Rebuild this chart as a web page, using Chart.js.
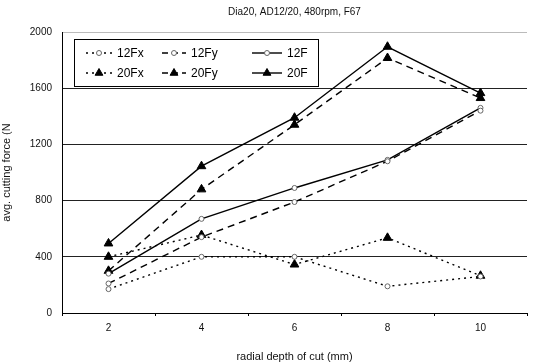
<!DOCTYPE html>
<html>
<head>
<meta charset="utf-8">
<script src="https://cdn.jsdelivr.net/npm/chart.js@4"></script>
<style>
  html, body { margin: 0; padding: 0; background: #fff; }
  #wrap { width: 533px; height: 364px; }
</style>
</head>
<body>
<div id="wrap"><canvas id="myChart" width="533" height="364"></canvas></div>
<script>
const depths = ['2', '4', '6', '8', '10'];
const yTicks = [0, 400, 800, 1200, 1600, 2000];

const f12x = [170, 400, 400, 190, 260];
const f12y = [210, 540, 790, 1080, 1440];
const f12 = [280, 670, 890, 1090, 1460];
const f20x = [400, 555, 345, 535, 265];
const f20y = [300, 880, 1340, 1815, 1530];
const f20 = [495, 1045, 1390, 1895, 1565];

const ctx = document.getElementById('myChart');
Chart.defaults.font.family = "'Liberation Sans', Arial, sans-serif";
Chart.defaults.font.size = 10;
Chart.defaults.color = '#111';

function series(label, data, dash, open) {
  return {
    label: label,
    data: data,
    borderColor: '#000',
    borderWidth: 1.4,
    borderDash: dash,
    backgroundColor: open ? '#fff' : '#000',
    pointStyle: open ? 'circle' : 'triangle',
    pointRadius: open ? 2.5 : 5,
    pointBorderWidth: 1,
    pointBorderColor: open ? '#666' : '#000',
    pointBackgroundColor: open ? '#fff' : '#000',
    tension: 0,
    fill: false
  };
}

// legend and title drawn inside the plot like the original
const boxLegend = {
  id: 'boxLegend',
  afterDraw(chart) {
    const c = chart.ctx;
    const area = chart.chartArea;
    c.save();
    // title centred over plot area
    c.fillStyle = '#111';
    c.font = "10px 'Liberation Sans', Arial, sans-serif";
    c.textAlign = 'center';
    c.textBaseline = 'middle';
    c.fillText('Dia20, AD12/20, 480rpm, F67', (area.left + area.right) / 2, 12);

    const bx = 74, by = 39, bw = 244, bh = 47;
    c.fillStyle = '#fff';
    c.fillRect(bx, by, bw, bh);
    c.strokeStyle = '#000';
    c.lineWidth = 1;
    c.setLineDash([]);
    c.strokeRect(bx + 0.5, by + 0.5, bw, bh);

    const colX = [86, 162, 252];
    const rowY = [53, 73];
    const sampleW = [26, 24, 30];
    const legendDash = [[2, 4], [6, 4], []];
    c.font = "12px 'Liberation Sans', Arial, sans-serif";
    c.textAlign = 'left';
    chart.data.datasets.forEach((ds, i) => {
      const x = colX[i % 3], y = rowY[Math.floor(i / 3)];
      const w = sampleW[i % 3];
      c.strokeStyle = '#000';
      c.lineWidth = ds.borderWidth;
      c.setLineDash(legendDash[i % 3]);
      c.beginPath();
      c.moveTo(x, y);
      c.lineTo(x + w, y);
      c.stroke();
      c.setLineDash([]);
      c.lineWidth = 1;
      c.fillStyle = ds.pointBackgroundColor;
      c.strokeStyle = ds.pointBorderColor;
      c.beginPath();
      Chart.helpers.drawPoint(c, {
        pointStyle: ds.pointStyle,
        radius: ds.pointStyle === 'triangle' ? 4.5 : 2.5,
        rotation: 0,
        borderWidth: 1
      }, x + w / 2, y);
      c.fillStyle = '#000';
      c.fillText(ds.label, x + w + 5, y + 1);
    });
    c.restore();
  }
};

new Chart(ctx, {
  type: 'line',
  data: {
    labels: depths,
    datasets: [
      series('12Fx', f12x, [2, 4], true),
      series('12Fy', f12y, [7, 5], true),
      series('12F', f12, [], true),
      series('20Fx', f20x, [2, 4], false),
      series('20Fy', f20y, [7, 5], false),
      series('20F', f20, [], false)
    ]
  },
  options: {
    responsive: false,
    animation: false,
    layout: { padding: { top: 32, right: 0, left: 0, bottom: 0 } },
    plugins: {
      legend: { display: false },
      title: { display: false },
      tooltip: { enabled: false }
    },
    scales: {
      x: {
        offset: true,
        grid: {
          offset: true,
          drawOnChartArea: false,
          drawTicks: true,
          tickLength: 3,
          color: '#000'
        },
        border: { color: '#000', width: 1 },
        ticks: { padding: 6, color: '#111', font: { size: 10 } },
        title: {
          display: true,
          text: 'radial depth of cut (mm)',
          color: '#111',
          font: { size: 11 },
          padding: { top: 8, bottom: 0 }
        },
        afterFit(scale) { scale.height = 51; }
      },
      y: {
        min: 0,
        max: 2000,
        afterBuildTicks(scale) {
          scale.ticks = yTicks.map(v => ({ value: v }));
        },
        grid: {
          drawTicks: false,
          lineWidth: 1,
          color: (c) => c.tick && c.tick.value === 2000 ? '#bbb' : (c.tick && c.tick.value === 0 ? '#000' : '#222')
        },
        border: { color: '#000', width: 1 },
        ticks: {
          padding: 10,
          color: '#111',
          font: { size: 10 },
          callback: (v) => String(v)
        },
        title: {
          display: true,
          text: 'avg. cutting force (N',
          color: '#111',
          font: { size: 11 },
          padding: { top: 0, bottom: 6 }
        },
        afterFit(scale) { scale.width = 62; }
      }
    }
  },
  plugins: [boxLegend]
});
</script>
</body>
</html>
